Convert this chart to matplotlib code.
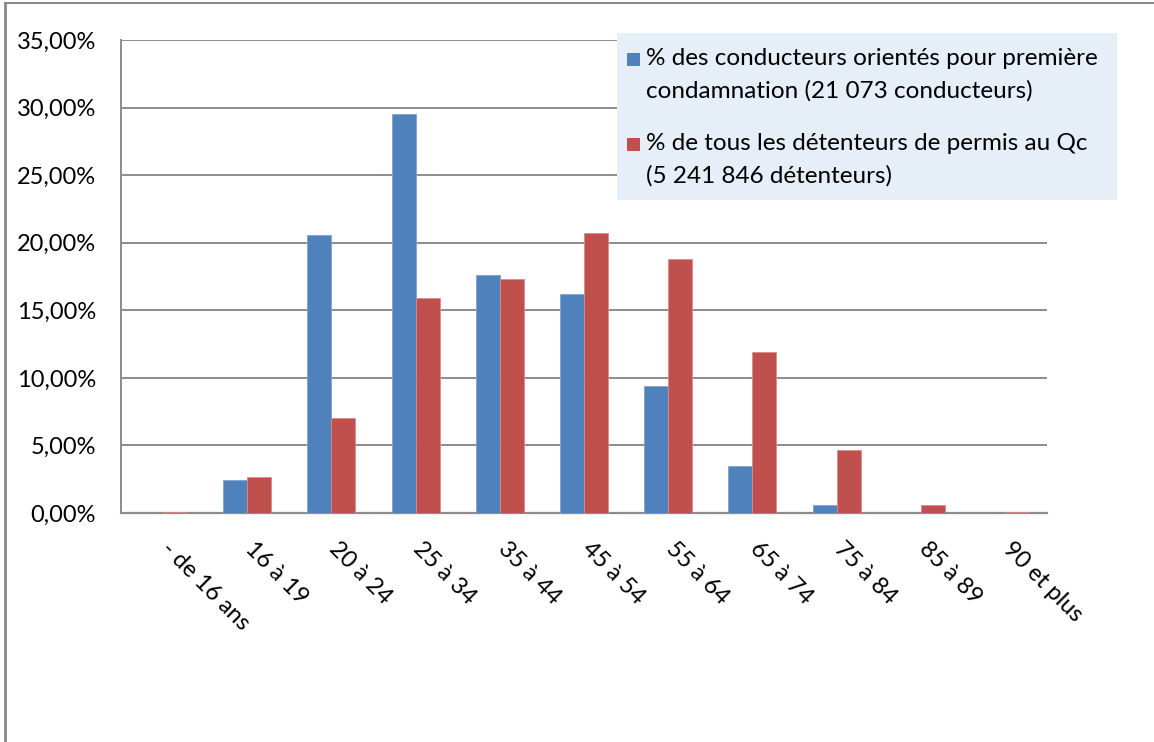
import numpy as np
import matplotlib
matplotlib.use('Agg')
import matplotlib.pyplot as plt
from matplotlib.patches import Rectangle
from matplotlib.lines import Line2D
from matplotlib.ticker import FuncFormatter

'''age groups and shares'''
categories = ['- de 16 ans', '16 à 19', '20 à 24', '25 à 34', '35 à 44', '45 à 54',
              '55 à 64', '65 à 74', '75 à 84', '85 à 89', '90 et plus']
conducteurs = [0.0, 2.45, 20.57, 29.49, 17.61, 16.18, 9.42, 3.5, 0.59, 0.0, 0.0]
detenteurs = [0.07, 2.65, 7.04, 15.9, 17.29, 20.74, 18.77, 11.92, 4.68, 0.61, 0.08]
label_conducteurs = '% des conducteurs orientés pour première\ncondamnation (21 073 conducteurs)'
label_detenteurs = '% de tous les détenteurs de permis au Qc\n(5 241 846 détenteurs)'

blue = '#4F81BD'
red = '#C0504D'
grid_col = '#8C8C8C'
font = 'Lato'
fs = 17

fig = plt.figure(figsize=(11.54, 7.42), dpi=100)
ax = fig.add_axes([121/1154, 1-513/742, (1047-121)/1154, (513-40)/742])

x = np.arange(len(categories))
w = 0.285
ax.bar(x - w/2, conducteurs, w, color=blue, edgecolor='#7FA3D1', linewidth=0.6, zorder=3)
ax.bar(x + w/2, detenteurs, w, color=red, edgecolor='#D98C8A', linewidth=0.6, zorder=3)

ax.set_xlim(-0.5, len(categories) - 0.5)
ax.set_ylim(0, 35)
ax.set_yticks(np.arange(0, 36, 5))
ax.yaxis.set_major_formatter(FuncFormatter(lambda v, p: ('%.2f%%' % v).replace('.', ',')))
ax.grid(axis='y', color=grid_col, linewidth=1.4, zorder=0)
ax.set_axisbelow(True)

for s in ['top', 'right']:
    ax.spines[s].set_visible(False)
ax.spines['left'].set_color(grid_col)
ax.spines['bottom'].set_color(grid_col)
ax.spines['left'].set_linewidth(1.4)
ax.spines['bottom'].set_linewidth(1.6)

ax.tick_params(axis='y', length=0, pad=18, labelsize=fs)
ax.tick_params(axis='x', length=0, pad=18)
for t in ax.get_yticklabels():
    t.set_fontfamily(font)

ax.set_xticks(x)
ax.set_xticklabels(categories, rotation=-45, ha='left', va='top',
                   fontsize=fs, fontfamily=font)
for t in ax.get_xticklabels():
    t.set_transform(t.get_transform() + matplotlib.transforms.ScaledTranslation(-6/100, 0, fig.dpi_scale_trans))

'''legend drawn by hand so the squares line up with the first text line'''
W, H = 1154, 742
fig.patches.append(Rectangle((617/W, 1-200/H), 500/W, 167/H, transform=fig.transFigure,
                             facecolor='#E6EEF7', edgecolor='none', zorder=5))
for yy, col, lab in [(59, blue, label_conducteurs), (144, red, label_detenteurs)]:
    fig.patches.append(Rectangle((627/W, 1-(yy+7)/H), 13/W, 13/H, transform=fig.transFigure,
                                 facecolor=col, edgecolor='none', zorder=6))
    fig.text(646/W, 1-(yy-11)/H, lab, fontsize=17.5, fontfamily=font, va='top', ha='left',
             linespacing=1.62, zorder=7)

'''chart frame'''
fig.add_artist(Line2D([4.5/W, 4.5/W], [0, 1-3/H], color='#888888', linewidth=2))
fig.add_artist(Line2D([4.5/W, 1], [1-3/H, 1-3/H], color='#888888', linewidth=1.5))

fig.savefig('out.png', dpi=100)
